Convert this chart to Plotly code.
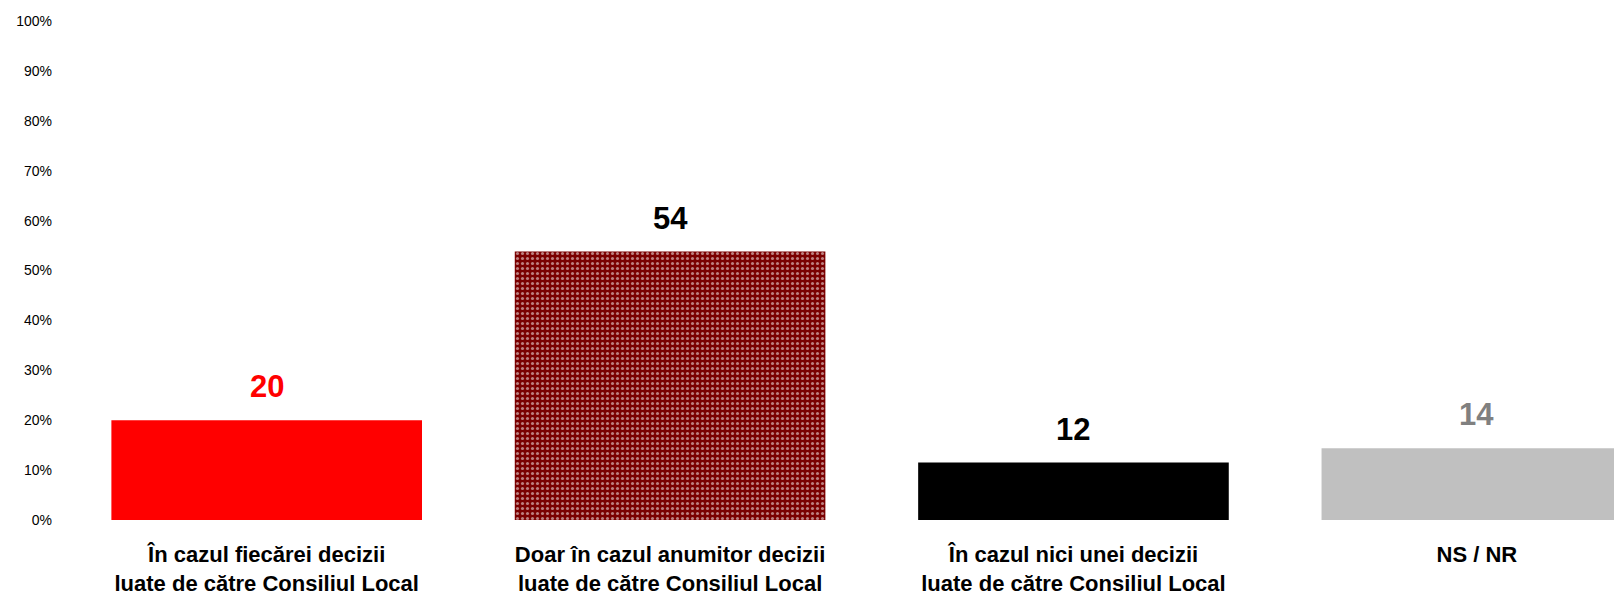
import plotly.graph_objects as go

categories = [
    "În cazul fiecărei decizii<br>luate de către Consiliul Local",
    "Doar în cazul anumitor decizii<br>luate de către Consiliul Local",
    "În cazul nici unei decizii<br>luate de către Consiliul Local",
    "NS / NR",
]
values = [20, 53.8, 11.5, 14.4]
value_labels = ["20", "54", "12", "14"]
bar_colors = ["#FF0000", "#7A0000", "#000000", "#C0C0C0"]
label_colors = ["#FF0000", "#000000", "#000000", "#808080"]
y_ticks = [0, 10, 20, 30, 40, 50, 60, 70, 80, 90, 100]

x_idx = list(range(len(categories)))

fig = go.Figure()
fig.add_trace(go.Bar(
    x=x_idx,
    y=values,
    width=0.77,
    marker=dict(
        color=bar_colors,
        line=dict(width=0),
        pattern=dict(
            shape=["", ".", "", ""],
            fgcolor="#C00000",
            bgcolor=["#FF0000", "#650000", "#000000", "#C0C0C0"],
            size=5,
            solidity=0.3,
        ),
    ),
    hoverinfo="skip",
    cliponaxis=True,
))

for i, (v, t, c) in enumerate(zip(values, value_labels, label_colors)):
    fig.add_annotation(
        x=i, y=v, text=t, showarrow=False,
        yanchor="bottom", yshift=14,
        font=dict(family="Liberation Sans, Arial", size=31, color=c, weight="bold"),
    )

fig.update_layout(
    width=1614, height=595,
    margin=dict(l=65, r=0, t=21, b=75),
    paper_bgcolor="white", plot_bgcolor="white",
    showlegend=False,
    font=dict(family="Liberation Sans, Arial"),
)
fig.update_xaxes(
    range=[-0.5, 3.34],
    tickvals=x_idx,
    ticktext=["<b>" + c.replace("<br>", "</b><br><b>") + "</b>" for c in categories],
    tickfont=dict(size=22, color="#000000", family="Liberation Sans, Arial"),
    showgrid=False, zeroline=False, showline=False, ticks="",
    ticklabelstandoff=19,
    automargin=False,
)
fig.update_yaxes(
    range=[0, 100],
    tickvals=y_ticks,
    ticktext=[f"{v}%" for v in y_ticks],
    tickfont=dict(size=14, color="#000000", family="Liberation Sans, Arial"),
    showgrid=False, zeroline=False, showline=False, ticks="",
    ticklabelstandoff=12,
    automargin=False,
)

fig.write_html(
    "out.html",
    config={"displayModeBar": False},
    post_script="document.body.style.margin='0';document.body.style.overflow='hidden';",
)
